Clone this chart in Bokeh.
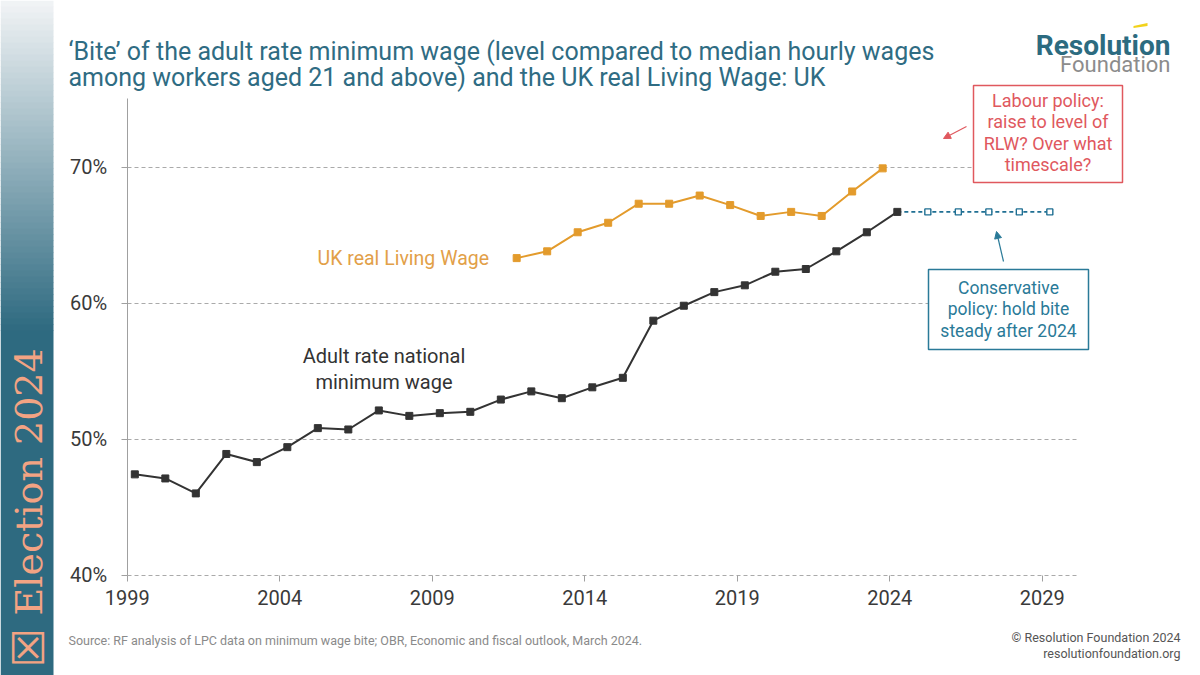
import math
from bokeh.plotting import figure
from bokeh.models import (Label, BoxAnnotation, Arrow, NormalHead, FixedTicker,
                          PrintfTickFormatter, Range1d, PolyAnnotation, ColumnDataSource)
from bokeh.embed import file_html
from bokeh.resources import INLINE

# ---------------- data ----------------
nmw_years = list(range(1999, 2025))
nmw_bite = [47.4, 47.1, 46.0, 48.9, 48.3, 49.4, 50.8, 50.7, 52.1, 51.7, 51.9, 52.0, 52.9,
            53.5, 53.0, 53.8, 54.5, 58.7, 59.8, 60.8, 61.3, 62.3, 62.5, 63.8, 65.2, 66.7]
rlw_years = list(range(2011, 2024))
rlw_bite = [63.3, 63.8, 65.2, 65.9, 67.3, 67.3, 67.9, 67.2, 66.4, 66.7, 66.4, 68.2, 69.9]
proj_years = [2024, 2025, 2026, 2027, 2028, 2029]
proj_bite = [66.7, 66.7, 66.7, 66.7, 66.7, 66.7]
x_ticks = [1999, 2004, 2009, 2014, 2019, 2024, 2029]
y_ticks = [40, 50, 60, 70]

NMW_OFFSET = 0.25   # April uprating
RLW_OFFSET = 0.77   # November announcement

# ---------------- layout ----------------
W, H = 1200, 675
AX_X_PX = 126.7      # pixel of 1999.0
AX_Y_PX = 574.5      # pixel of 40 %
PX_PER_YEAR = 30.5
PX_PER_PCT = 13.6
CHART_RIGHT_PX = 1077
CHART_TOP_PX = 98


def dx(px):
    return 1999.0 + (px - AX_X_PX) / PX_PER_YEAR


def dy(py):
    return 40.0 + (AX_Y_PX - py) / PX_PER_PCT


p = figure(width=W, height=H, x_range=Range1d(dx(0), dx(W)), y_range=Range1d(dy(H), dy(0)),
           output_backend="svg", toolbar_location=None,
           min_border=0, min_border_left=0, min_border_right=0, min_border_top=0, min_border_bottom=0,
           background_fill_color="white", border_fill_color="white", outline_line_color=None)
p.styles = {"position": "absolute", "left": "0px", "top": "0px"}

FONT = "Roboto"
TEAL = "#2F6C83"

X_END = dx(CHART_RIGHT_PX)
Y_END = dy(CHART_TOP_PX)

# axes (placed at fixed data locations so the frame can span the whole canvas)
p.xaxis.fixed_location = 40
p.xaxis.bounds = (1999, X_END)
p.xaxis.ticker = FixedTicker(ticks=x_ticks)
p.xaxis.axis_line_color = None
p.xaxis.major_tick_line_color = "#a0a0a0"
p.xaxis.major_tick_out = 6
p.xaxis.major_tick_in = 0
p.xaxis.minor_tick_line_color = None
p.xaxis.major_label_text_font_size = "20px"
p.xaxis.major_label_text_color = "#3a3a3a"
p.xaxis.major_label_text_font = FONT
p.xaxis.major_label_standoff = 9

p.yaxis.fixed_location = 1999
p.yaxis.bounds = (40, Y_END)
p.yaxis.ticker = FixedTicker(ticks=y_ticks)
p.yaxis.formatter = PrintfTickFormatter(format="%d%%")
p.yaxis.axis_line_color = "#a0a0a0"
p.yaxis.major_tick_line_color = "#a0a0a0"
p.yaxis.major_tick_out = 6
p.yaxis.major_tick_in = 0
p.yaxis.minor_tick_line_color = None
p.yaxis.major_label_text_font_size = "20px"
p.yaxis.major_label_text_color = "#3a3a3a"
p.yaxis.major_label_text_font = FONT
p.yaxis.major_label_standoff = 14

p.xgrid.grid_line_color = None
p.ygrid.ticker = FixedTicker(ticks=y_ticks)
p.ygrid.cross_bounds = (1999, X_END)
p.ygrid.grid_line_color = "#aaaaaa"
p.ygrid.grid_line_dash = "4 3"
p.ygrid.grid_line_width = 1

# ---------------- series ----------------
nmw_src = ColumnDataSource(dict(x=[y + NMW_OFFSET for y in nmw_years], y=nmw_bite))
rlw_src = ColumnDataSource(dict(x=[y + RLW_OFFSET for y in rlw_years], y=rlw_bite))
proj_src = ColumnDataSource(dict(x=[y + NMW_OFFSET for y in proj_years], y=proj_bite))

BLACK = "#333333"
ORANGE = "#E39B2C"
BLUE = "#1F6F93"

p.line("x", "y", source=proj_src, line_color=BLUE, line_width=1.6, line_dash="4 3")
p.scatter("x", "y", source=ColumnDataSource(dict(x=proj_src.data["x"][1:], y=proj_bite[1:])),
          marker="square", size=6, fill_color="white", line_color=BLUE, line_width=1.4)
p.line("x", "y", source=nmw_src, line_color=BLACK, line_width=2)
p.scatter("x", "y", source=nmw_src, marker="square", size=7, color=BLACK)
p.line("x", "y", source=rlw_src, line_color=ORANGE, line_width=2)
p.scatter("x", "y", source=rlw_src, marker="square", size=7, color=ORANGE)


# ---------------- decorations ----------------
def lab(text, px, py, size, color, align="left", baseline="middle", font=FONT,
        style="normal", angle=0.0):
    p.add_layout(Label(x=dx(px), y=dy(py), text=text, text_font_size=f"{size}px",
                       text_color=color, text_align=align, text_baseline=baseline,
                       text_font=font, text_font_style=style, angle=angle))


def hexmix(c1, c2, t):
    a = [int(c1[i:i + 2], 16) for i in (1, 3, 5)]
    b = [int(c2[i:i + 2], 16) for i in (1, 3, 5)]
    return "#" + "".join(f"{round(a[k] + (b[k] - a[k]) * t):02x}" for k in range(3))


# left band with gradient
BAND_W = 53
TOP_C, BOT_C = "#f2f4f6", "#2E6A80"
GRAD_END = 330
step = 6
for y0 in range(0, GRAD_END, step):
    t = (y0 + step / 2) / GRAD_END
    p.add_layout(BoxAnnotation(left=dx(0), right=dx(BAND_W), top=dy(y0), bottom=dy(y0 + step + 0.5),
                               fill_color=hexmix(TOP_C, BOT_C, t), fill_alpha=1, line_color=None,
                               level="underlay"))
p.add_layout(BoxAnnotation(left=dx(0), right=dx(BAND_W), top=dy(GRAD_END), bottom=dy(H),
                           fill_color=BOT_C, fill_alpha=1, line_color=None, level="underlay"))

SALMON = "#F3A383"
lab("Election 2024", 28, 615, 38, SALMON, align="left", baseline="middle",
    font="DejaVu Serif", angle=math.pi / 2)
lab("\u2612", 28, 667, 44, SALMON, align="left", baseline="middle",
    font="DejaVu Sans", angle=math.pi / 2)

# title
lab("\u2018Bite\u2019 of the adult rate minimum wage (level compared to median hourly wages",
    68, 51, 25, TEAL, baseline="alphabetic")
lab("among workers aged 21 and above) and the UK real Living Wage: UK",
    68, 77, 25, TEAL, baseline="alphabetic")

# logo
lab("Resolution", 1170, 45, 28, "#2C6B80", align="right", baseline="alphabetic", style="bold")
lab("Foundation", 1170, 64, 22, "#8C8C8C", align="right", baseline="alphabetic")
p.add_layout(PolyAnnotation(xs=[dx(1133), dx(1147), dx(1147), dx(1133)],
                            ys=[dy(25.5), dy(22.5), dy(25.5), dy(27.5)],
                            fill_color="#F2D21B", fill_alpha=1, line_color=None))

# series labels
lab("UK real Living Wage", 317, 258, 19.5, "#E2A048")
lab("Adult rate national", 383.5, 355, 20, BLACK, align="center")
lab("minimum wage", 383.5, 381, 20, BLACK, align="center")

# Labour box
RED = "#E0585E"
p.add_layout(BoxAnnotation(left=dx(973), right=dx(1122), top=dy(85), bottom=dy(182),
                           fill_color="white", fill_alpha=1, line_color=RED, line_alpha=1,
                           line_width=1.5))
for i, t in enumerate(["Labour policy:", "raise to level of", "RLW? Over what", "timescale?"]):
    lab(t, 1047.5, 100 + i * 21.4, 18, RED, align="center")
p.add_layout(Arrow(x_start=dx(966), y_start=dy(126), x_end=dx(943), y_end=dy(138),
                   line_color=RED, line_width=1.2,
                   end=NormalHead(size=7, fill_color=RED, line_color=RED)))

# Conservative box
CBLUE = "#2A7A98"
p.add_layout(BoxAnnotation(left=dx(928), right=dx(1088), top=dy(269), bottom=dy(349),
                           fill_color="white", fill_alpha=1, line_color=CBLUE, line_alpha=1,
                           line_width=1.5))
for i, t in enumerate(["Conservative", "policy: hold bite", "steady after 2024"]):
    lab(t, 1008, 287 + i * 21.5, 17.5, CBLUE, align="center")
p.add_layout(Arrow(x_start=dx(1003), y_start=dy(261), x_end=dx(996), y_end=dy(231),
                   line_color=CBLUE, line_width=1.2,
                   end=NormalHead(size=7, fill_color=CBLUE, line_color=CBLUE)))

# footer
lab("Source: RF analysis of LPC data on minimum wage bite; OBR, Economic and fiscal outlook, March 2024.",
    68, 640, 12.5, "#8a8a8a")
lab("\u00a9 Resolution Foundation 2024", 1180, 637, 12.5, "#555555", align="right")
lab("resolutionfoundation.org", 1180, 653, 12.5, "#555555", align="right")

open("out.html", "w").write(file_html(p, INLINE))
